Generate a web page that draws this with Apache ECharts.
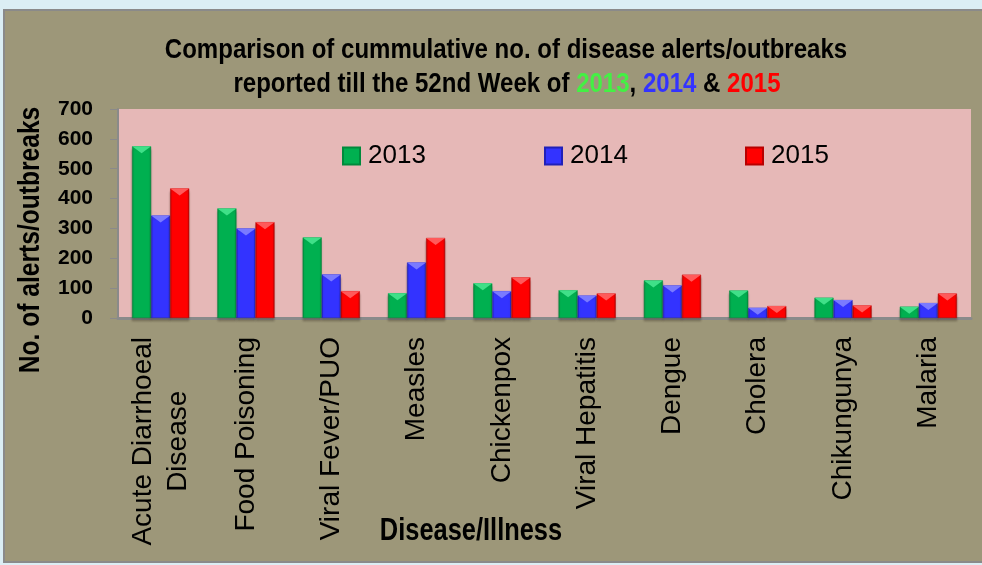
<!DOCTYPE html>
<html>
<head>
<meta charset="utf-8">
<script src="https://cdn.jsdelivr.net/npm/echarts@6/dist/echarts.min.js"></script>
<style>
html,body{margin:0;padding:0;background:#dbeef4;}
#chart{width:982px;height:565px;}
</style>
</head>
<body>
<div id="chart"></div>
<script>
// ---- data ----
const categories = ['Acute Diarrhoeal\nDisease', 'Food Poisoning', 'Viral Fever/PUO', 'Measles', 'Chickenpox',
  'Viral Hepatitis', 'Dengue', 'Cholera', 'Chikungunya', 'Malaria'];
const seriesNames = ['2013', '2014', '2015'];
const values2013 = [575, 367, 270, 83, 116, 93, 126, 92, 68, 38];
const values2014 = [343, 300, 146, 186, 90, 75, 109, 34, 60, 50];
const values2015 = [434, 321, 90, 268, 136, 82, 145, 40, 42, 82];
const yMin = 0, yMax = 700, yStep = 100;
const titleLine1 = 'Comparison of cummulative no. of disease alerts/outbreaks';
const titleLine2Parts = ['reported till the 52nd Week of ', '2013', ', ', '2014', ' & ', '2015'];
const yAxisName = 'No. of alerts/outbreaks';
const xAxisName = 'Disease/Illness';

// ---- font detection ----
function hasFont(name) {
  const ctx = document.createElement('canvas').getContext('2d');
  const s = 'abcdefghijklmnopqrstuvwxyzABCDEFGHIJ0123456789';
  let diff = false;
  ['monospace', 'serif'].forEach(function (fb) {
    ctx.font = '72px ' + fb;
    const a = ctx.measureText(s).width;
    ctx.font = "72px '" + name + "', " + fb;
    const b = ctx.measureText(s).width;
    if (Math.abs(a - b) > 0.5) diff = true;
  });
  return diff;
}
const HAS_NARROW = hasFont('Liberation Sans Narrow');
const NF = HAS_NARROW ? "'Liberation Sans Narrow', sans-serif" : "'Liberation Sans', Arial, sans-serif";
const K = HAS_NARROW ? 1 : 0.82;   // size factor for plain (unscaled) text
const SX = HAS_NARROW ? 1 : 0.82;  // horizontal squeeze for graphic text
function fs(v) { return Math.round(v * K); }

const colors = {
  '2013': ['#00b050', '#008a3c', '#3fe088'],
  '2014': ['#3333ff', '#2020b8', '#7a7aff'],
  '2015': ['#ff0000', '#b80000', '#ff5a5a']
};
function barStyle(name) {
  const c = colors[name];
  return {
    color: new echarts.graphic.LinearGradient(0, 0, 1, 0, [
      { offset: 0, color: c[1] },
      { offset: 0.1, color: c[0] },
      { offset: 0.9, color: c[0] },
      { offset: 1, color: c[1] }
    ]),
    borderColor: c[1],
    borderWidth: 0.5,
    shadowColor: 'rgba(60,50,40,0.35)',
    shadowBlur: 2,
    shadowOffsetY: 3
  };
}

const chart = echarts.init(document.getElementById('chart'), null, { renderer: 'canvas' });
const dataMap = { '2013': values2013, '2014': values2014, '2015': values2015 };
const legendLefts = [342, 544, 745];

function squeezedText(x, y, rot, text, size, sx, extra) {
  const st = {
    x: 0, y: 0, text: text, textAlign: 'center', textVerticalAlign: 'middle',
    fontFamily: NF, fontWeight: 'bold', fontSize: size, fill: '#000'
  };
  if (extra) Object.assign(st, extra);
  return { type: 'text', z: 10, silent: true, x: x, y: y, rotation: rot, scaleX: sx, scaleY: 1, style: st };
}
const TSX = HAS_NARROW ? 1 : 0.89;

const barSeries = seriesNames.map(function (n) {
  return {
    name: n, type: 'bar', data: dataMap[n],
    barGap: '0%', barCategoryGap: '33%',
    itemStyle: barStyle(n),
    color: colors[n][0]
  };
});
const bevelSeries = seriesNames.map(function (n) {
  return {
    name: 'bevel ' + n, type: 'pictorialBar', data: dataMap[n],
    barGap: '0%', barCategoryGap: '33%',
    symbol: 'path://M0,0 L20,0 L10,7 Z', symbolPosition: 'end',
    symbolSize: ['100%', 7], symbolRepeat: false,
    silent: true, z: 3,
    itemStyle: { color: colors[n][2] }
  };
});

const option = {
  backgroundColor: '#dbeef4',
  animation: false,
  graphic: [
    {
      type: 'rect', z: -100, silent: true,
      shape: { x: 4, y: 10, width: 1000, height: 552 },
      style: { fill: '#9d9779', stroke: '#8a8a8a', lineWidth: 2 }
    },
    squeezedText(506, 51, 0, titleLine1, 27, TSX),
    squeezedText(507, 85, 0,
      titleLine2Parts[0] + '{g|' + titleLine2Parts[1] + '}' + titleLine2Parts[2] +
      '{b|' + titleLine2Parts[3] + '}' + titleLine2Parts[4] + '{r|' + titleLine2Parts[5] + '}', 27, TSX,
      {
        rich: {
          g: { fill: '#44f044', fontFamily: NF, fontWeight: 'bold', fontSize: 27 },
          b: { fill: '#3333ff', fontFamily: NF, fontWeight: 'bold', fontSize: 27 },
          r: { fill: '#ff0000', fontFamily: NF, fontWeight: 'bold', fontSize: 27 }
        }
      }),
    squeezedText(31, 240, Math.PI / 2, yAxisName, 30, SX),
    squeezedText(471, 531, 0, xAxisName, 31, SX)
  ],
  legend: seriesNames.map(function (n, i) {
    return {
      data: [n], left: legendLefts[i], top: 143, padding: 0,
      icon: 'rect', itemWidth: 17, itemHeight: 17, selectedMode: false,
      textStyle: { fontFamily: NF, fontSize: fs(32), color: '#000', padding: [0, 0, 0, 3], lineHeight: 20 }
    };
  }),
  grid: {
    left: 118, right: 11, top: 109, bottom: 247,
    show: true, backgroundColor: '#e6b8b7', borderWidth: 0
  },
  xAxis: {
    type: 'category',
    data: categories,
    axisLine: { lineStyle: { color: '#8a8a8a', width: 3 } },
    axisTick: { show: false },
    axisLabel: {
      interval: 0, rotate: 90, margin: 19,
      formatter: function (v) {
        return v.split('\n').map(function (l) { return '{c|' + l + '}'; }).join('\n');
      },
      rich: {
        c: { fontFamily: NF, fontSize: fs(34), color: '#000', align: 'center', lineHeight: 35 }
      }
    }
  },
  yAxis: {
    type: 'value', min: yMin, max: yMax, interval: yStep,
    axisLine: { show: true, lineStyle: { color: '#8a8a8a', width: 2 } },
    axisTick: { show: true, length: 8, lineStyle: { color: '#8a8a8a', width: 1 } },
    splitLine: { show: false },
    axisLabel: { margin: 25, fontFamily: NF, fontWeight: 'bold', fontSize: fs(25), color: '#000' }
  },
  series: barSeries.concat(bevelSeries)
};
chart.setOption(option);
</script>
</body>
</html>
